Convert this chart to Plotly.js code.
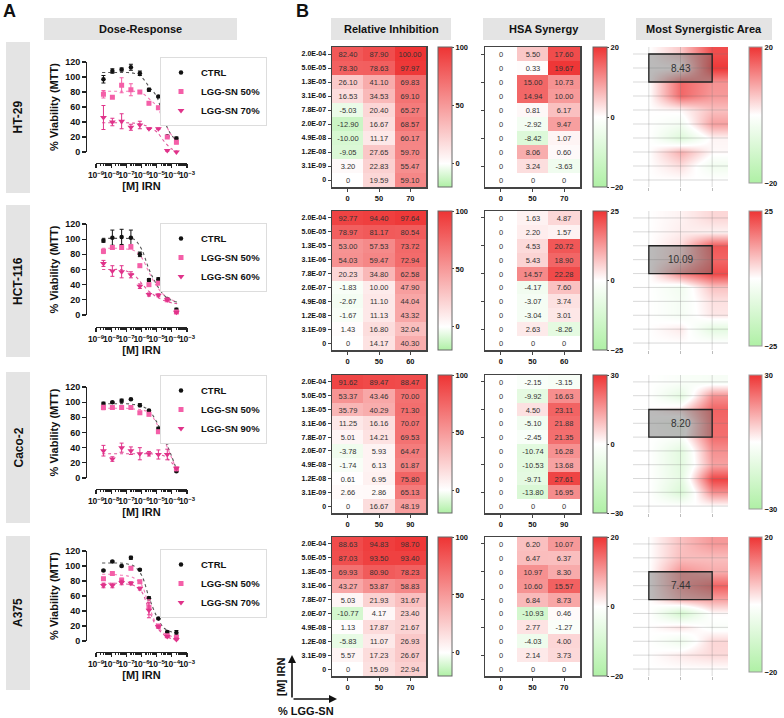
<!DOCTYPE html>
<html><head><meta charset="utf-8">
<script src="https://cdn.plot.ly/plotly-3.0.1.min.js"></script>
<style>html,body{margin:0;padding:0;background:#fff}#chart{width:784px;height:718px}</style>
</head><body><div id="chart"></div>
<script>
// ---------------- DATA ----------------
const concLabels = ["2.0E-04","5.0E-05","1.3E-05","3.1E-06","7.8E-07","2.0E-07","4.9E-08","1.2E-08","3.1E-09","0"];
const irnMolar = [3.1e-9,1.2e-8,4.9e-8,2.0e-7,7.8e-7,3.1e-6,1.3e-5,5.0e-5,2.0e-4];
const fitLog10M = [-8.6,-8,-7.5,-7,-6.5,-6,-5.5,-5,-4.5,-4,-3.65];
const cellLines = ["HT-29","HCT-116","Caco-2","A375"];
const lggLevels = [["0","50","70"],["0","50","60"],["0","50","90"],["0","50","70"]];

const ht29Names = ["CTRL","LGG-SN 50%","LGG-SN 70%"];
const ht29Viab = [[97,108,110,113,105,83,74,21,18],[77,73,89,83,80,65,59,20,13],[46,40,41,33,36,31,31,2,0]];
const ht29Err  = [[5,3,2,4,3,2,1,1,2],[5,1,10,8,2,2,2,1,2],[16,5,10,4,5,1,1,1,1]];
const ht29Fit  = [[106,106,106,106,105,100,87,74,42,22,16],[81,81,81,81,81,79,71,61,40,22,14],[39,39,39,39,38.5,37,33,27,14,4,1]];

const hct116Names = ["CTRL","LGG-SN 50%","LGG-SN 60%"];
const hct116Viab = [[98,102,103,102,80,46,47,21,7],[84,89,89,90,65,40,42,20,4],[68,58,57,53,38,27,26,20,3.5]];
const hct116Err  = [[2,10,10,10,3,2,2,1,2],[3,2,2,3,2,2,2,1,1],[4,7,8,4,3,2,2,1,1]];
const hct116Fit  = [[101,101,101,101,100,87,60,40,26,19,17],[88,88,88,87,85,76,56,38,26,20,17],[60,60,60,58,53,42,31,24,19,16,15]];

const caco2Names = ["CTRL","LGG-SN 50%","LGG-SN 90%"];
const caco2Viab = [[98,100,102,104,96,89,65,47,9],[93,93,93,93,86,84,61,57,12],[36,25,40,36,32,32,31,31,13]];
const caco2Err  = [[2,1,2,1,2,1,2,1,1],[3,1,2,2,2,2,2,3,1],[7,3,6,5,8,3,6,7,1]];
const caco2Fit  = [[98,98,98,98,97,95,89,74,52,28,9],[92,92,92,92,91,90,86,72,50,26,10],[32,32,32,32,32,32,32,31,29,20,12]];

const a375Names = ["CTRL","LGG-SN 50%","LGG-SN 70%"];
const a375Viab = [[94,106,100,111,95,57,30,12,11],[83,90,81,97,79,45,20,7,5],[74,74,78,77,70,41,19,6,2]];
const a375Err  = [[1,1,1,2,1,2,1,1,3],[2,1,3,2,2,10,2,1,2],[3,3,3,2,2,10,2,1,2]];
const a375Fit  = [[104,104,104,103,100,88,58,33,17,12,11],[89,89,88,87,84,75,46,22,10,6,5],[77,77,77,76,74,66,41,19,8,3,2]];

// Relative inhibition (rows top->bottom as concLabels, cols = lggLevels)
const ht29RI = [[82.40,87.90,100.00],[78.30,78.63,97.97],[26.10,41.10,69.83],[16.53,34.53,69.10],[-5.03,20.40,65.27],[-12.90,16.67,68.57],[-10.00,11.17,60.17],[-9.05,27.65,59.70],[3.20,22.83,55.47],[0,19.59,59.10]];
const hct116RI = [[92.77,94.40,97.64],[78.97,81.17,80.54],[53.00,57.53,73.72],[54.03,59.47,72.94],[20.23,34.80,62.58],[-1.83,10.00,47.90],[-2.67,11.10,44.04],[-1.67,11.13,43.32],[1.43,16.80,32.04],[0,14.17,40.30]];
const caco2RI = [[91.62,89.47,88.47],[53.37,43.46,70.00],[35.79,40.29,71.30],[11.25,16.16,70.07],[5.01,14.21,69.53],[-3.78,5.93,64.47],[-1.74,6.13,61.87],[0.61,6.95,75.80],[2.66,2.86,65.13],[0,16.67,48.19]];
const a375RI = [[88.63,94.83,98.70],[87.03,93.50,93.40],[69.93,80.90,78.23],[43.27,53.87,58.83],[5.03,21.93,31.67],[-10.77,4.17,23.40],[1.13,17.87,21.67],[-5.83,11.07,26.93],[5.57,17.23,26.67],[0,15.09,22.94]];

// HSA synergy
const ht29HSA = [[0,5.50,17.60],[0,0.33,19.67],[0,15.00,10.73],[0,14.94,10.00],[0,0.81,6.17],[0,-2.92,9.47],[0,-8.42,1.07],[0,8.06,0.60],[0,3.24,-3.63],[0,0,0]];
const hct116HSA = [[0,1.63,4.87],[0,2.20,1.57],[0,4.53,20.72],[0,5.43,18.90],[0,14.57,22.28],[0,-4.17,7.60],[0,-3.07,3.74],[0,-3.04,3.01],[0,2.63,-8.26],[0,0,0]];
const caco2HSA = [[0,-2.15,-3.15],[0,-9.92,16.63],[0,4.50,23.11],[0,-5.10,21.88],[0,-2.45,21.35],[0,-10.74,16.28],[0,-10.53,13.68],[0,-9.71,27.61],[0,-13.80,16.95],[0,0,0]];
const a375HSA = [[0,6.20,10.07],[0,6.47,6.37],[0,10.97,8.30],[0,10.60,15.57],[0,6.84,8.73],[0,-10.93,0.46],[0,2.77,-1.27],[0,-4.03,4.00],[0,2.14,3.73],[0,0,0]];

const hsaLimits = [20,25,30,20];
const msaScores = [8.43,10.09,8.20,7.44];
const msaTopRow = [0,2,2,2];
const riTicks = [0,50,100];

// ---------------- LAYOUT HELPERS ----------------
const W=784,H=718;
const fx=p=>p/W, fy=p=>1-p/H;
const FONT='Liberation Sans, Arial, Helvetica, sans-serif';
const B=(size,color)=>({family:FONT,size:size,color:color||'#111',weight:'bold'});
const N=(size,color)=>({family:FONT,size:size,color:color||'#333'});
const fmt=v=>v===0?'0':v.toFixed(2);

const panels=[
  {names:ht29Names,viab:ht29Viab,err:ht29Err,fit:ht29Fit,ri:ht29RI,hsa:ht29HSA},
  {names:hct116Names,viab:hct116Viab,err:hct116Err,fit:hct116Fit,ri:hct116RI,hsa:hct116HSA},
  {names:caco2Names,viab:caco2Viab,err:caco2Err,fit:caco2Fit,ri:caco2RI,hsa:caco2HSA},
  {names:a375Names,viab:a375Viab,err:a375Err,fit:a375Fit,ri:a375RI,hsa:a375HSA}
];
const rowPx=[
  {dr:[62,152,163],hm:[47,187],leg:57,box:[42,193]},
  {dr:[224,315,327],hm:[211,350],leg:223,box:[205,357]},
  {dr:[387,478,489],hm:[375,513],leg:375,box:[372,523]},
  {dr:[551,641,652],hm:[537,676],leg:549,box:[536,690]}
];
const colors=['#111111','#f45fa8','#e0338a'];
const fitColors=['#555555','#f47cb8','#e0559c'];
const symbols=['circle','square','triangle-down'];
const msize=[4.5,5,6];
const GREEN='rgb(175,240,165)', RED='rgb(238,52,52)';
const riScale=[[0,GREEN],[20/120,'#ffffff'],[1,RED]];
const hsaScale=[[0,GREEN],[0.5,'#ffffff'],[1,RED]];

const traces=[], shapes=[], annotations=[];
const layout={width:W,height:H,margin:{l:0,r:0,t:0,b:0},paper_bgcolor:'#fff',plot_bgcolor:'rgba(0,0,0,0)',
  font:{family:FONT,color:'#111'},hovermode:false,shapes:shapes,annotations:annotations};
const xk=n=>n===1?'xaxis':'xaxis'+n, yk=n=>n===1?'yaxis':'yaxis'+n;
const xr=n=>n===1?'x':'x'+n, yr=n=>n===1?'y':'y'+n;
const ann=(o)=>annotations.push(Object.assign({xref:'paper',yref:'paper',showarrow:false,xanchor:'center',yanchor:'middle'},o));

panels.forEach((p,i)=>{
  const r=rowPx[i];
  // ---- dose response ----
  const n=1+i, legId=i===0?'legend':'legend'+(i+1);
  p.fit.forEach((fy_,s)=>{
    traces.push({type:'scatter',mode:'lines',x:fitLog10M.map(v=>Math.pow(10,v)),y:fy_,
      xaxis:xr(n),yaxis:yr(n),showlegend:false,line:{color:fitColors[s],width:1.1,dash:'dot',shape:'spline'},cliponaxis:false});
  });
  p.viab.forEach((v,s)=>{
    traces.push({type:'scatter',mode:'markers',name:p.names[s],x:irnMolar,y:v,xaxis:xr(n),yaxis:yr(n),legend:legId,
      marker:{color:colors[s],symbol:symbols[s],size:msize[s]},cliponaxis:false,
      error_y:{type:'data',array:p.err[s],color:colors[s],thickness:1,width:2}});
  });
  layout[xk(n)]={type:'log',domain:[fx(96),fx(187)],range:[-9,-3],anchor:'free',position:fy(r.dr[2]),
    showline:true,linecolor:'#222',linewidth:1.3,ticks:'outside',ticklen:4,tickwidth:1.2,tickcolor:'#222',dtick:1,
    tickangle:0,exponentformat:'power',tickfont:B(6.8),minor:{ticks:'outside',ticklen:2,dtick:'D1',tickcolor:'#222',showgrid:false},
    showgrid:false,zeroline:false,title:{text:'[M] IRN',font:B(11),standoff:3}};
  layout[yk(n)]={domain:[fy(r.dr[1]),fy(r.dr[0])],range:[0,120],anchor:'free',position:fx(86),dtick:20,
    ticks:'outside',ticklen:4,tickwidth:1.2,tickcolor:'#222',showline:true,linecolor:'#222',linewidth:1.3,
    showgrid:false,zeroline:false,tickfont:B(9),title:{text:'% Viability (MTT)',font:B(11),standoff:3}};
  layout[legId]={x:fx(160),y:fy(r.leg),xanchor:'left',yanchor:'top',bgcolor:'#fff',bordercolor:'#dddddd',borderwidth:1,
    font:B(9.5),itemwidth:30,tracegroupgap:0};

  // ---- relative inhibition ----
  const m=5+i;
  traces.push({type:'heatmap',x:lggLevels[i],y:concLabels,z:p.ri,xaxis:xr(m),yaxis:yr(m),
    colorscale:riScale,zmin:-20,zmax:100,text:p.ri.map(row=>row.map(fmt)),texttemplate:'%{text}',textfont:N(7.5),
    colorbar:{x:fx(438),xanchor:'left',y:fy(r.hm[0]),yanchor:'top',len:r.hm[1]-r.hm[0],lenmode:'pixels',
      thickness:14,outlinewidth:1,outlinecolor:'#666',tickvals:riTicks,ticks:'outside',ticklen:2,tickfont:B(7.5),xpad:0,ypad:0}});
  const hmAxX={type:'category',showline:true,mirror:true,linecolor:'#444',linewidth:1.5,ticks:'outside',ticklen:3,
    tickcolor:'#444',tickfont:B(7.5),showgrid:false,zeroline:false};
  const hmAxY={type:'category',autorange:'reversed',showline:true,mirror:true,linecolor:'#444',linewidth:1.5,
    ticks:'outside',ticklen:3,tickcolor:'#444',tickfont:B(7),showgrid:false,zeroline:false,domain:[fy(r.hm[1]),fy(r.hm[0])]};
  layout[xk(m)]=Object.assign({},hmAxX,{domain:[fx(332),fx(426)],anchor:yr(m)});
  layout[yk(m)]=Object.assign({},hmAxY,{anchor:xr(m)});

  // ---- HSA synergy ----
  const h=9+i, L=hsaLimits[i];
  traces.push({type:'heatmap',x:lggLevels[i],y:concLabels,z:p.hsa,xaxis:xr(h),yaxis:yr(h),
    colorscale:hsaScale,zmin:-L,zmax:L,text:p.hsa.map(row=>row.map(fmt)),texttemplate:'%{text}',textfont:N(7.5),
    colorbar:{x:fx(593),xanchor:'left',y:fy(r.hm[0]),yanchor:'top',len:r.hm[1]-r.hm[0],lenmode:'pixels',
      thickness:14,outlinewidth:1,outlinecolor:'#666',tickvals:[-L,0,L],ticks:'outside',ticklen:2,tickfont:B(7.5),xpad:0,ypad:0}});
  layout[xk(h)]=Object.assign({},hmAxX,{domain:[fx(485),fx(580)],anchor:yr(h)});
  layout[yk(h)]=Object.assign({},hmAxY,{anchor:xr(h),showticklabels:false});

  // ---- most synergistic area ----
  const a=13+i;
  const idxX=lggLevels[i].map((_,k)=>k), idxY=concLabels.map((_,k)=>k);
  traces.push({type:'heatmap',x:idxX,y:idxY,z:p.hsa,xaxis:xr(a),yaxis:yr(a),zsmooth:'best',
    colorscale:hsaScale,zmin:-L,zmax:L,
    colorbar:{x:fx(749),xanchor:'left',y:fy(r.hm[0]),yanchor:'top',len:r.hm[1]-r.hm[0]-4,lenmode:'pixels',
      thickness:13,outlinewidth:1,outlinecolor:'#999',tickvals:[-L,L],ticks:'',tickfont:B(7.5),xpad:0,ypad:0}});
  layout[xk(a)]={domain:[fx(633),fx(728)],anchor:yr(a),range:[-0.5,2.5],showgrid:false,zeroline:false,showline:false,
    tickvals:idxX,showticklabels:false,ticks:'outside',ticklen:3,tickcolor:'#bbb'};
  layout[yk(a)]={domain:[fy(r.hm[1]),fy(r.hm[0])],anchor:xr(a),range:[9.5,-0.5],showgrid:false,zeroline:false,
    showline:false,showticklabels:false,ticks:''};
  idxY.forEach(k=>shapes.push({type:'line',xref:xr(a),yref:yr(a),x0:-0.5,x1:2.5,y0:k,y1:k,layer:'above',
    line:{color:'rgba(120,120,120,0.28)',width:1}}));
  idxX.forEach(k=>shapes.push({type:'line',xref:xr(a),yref:yr(a),x0:k,x1:k,y0:-0.5,y1:9.5,layer:'above',
    line:{color:'rgba(120,120,120,0.28)',width:1}}));
  shapes.push({type:'rect',xref:xr(a),yref:yr(a),x0:0,x1:idxX.length-1,y0:msaTopRow[i],y1:msaTopRow[i]+2,layer:'above',
    fillcolor:'rgba(105,105,105,0.45)',line:{color:'#222',width:1.3}});
  annotations.push({xref:xr(a),yref:yr(a),x:1,y:msaTopRow[i]+1,text:msaScores[i].toFixed(2),showarrow:false,
    xanchor:'center',yanchor:'middle',font:N(10,'#333')});

  // ---- row label box ----
  shapes.push({type:'rect',xref:'paper',yref:'paper',x0:fx(6),x1:fx(30),y0:fy(r.box[1]),y1:fy(r.box[0]),
    fillcolor:'#e4e4e4',line:{width:0},layer:'below'});
  ann({x:fx(18),y:fy((r.box[0]+r.box[1])/2),text:cellLines[i],textangle:-90,font:B(12)});
});

// headers
[[44,237,'Dose-Response'],[331,451,'Relative Inhibition'],[483,605,'HSA Synergy'],[636,772,'Most Synergistic Area']].forEach(hd=>{
  shapes.push({type:'rect',xref:'paper',yref:'paper',x0:fx(hd[0]),x1:fx(hd[1]),y0:fy(40),y1:fy(18),fillcolor:'#e4e4e4',line:{width:0},layer:'below'});
  ann({x:fx((hd[0]+hd[1])/2),y:fy(29),text:hd[2],font:B(11)});
});
ann({x:fx(9),y:fy(11),text:'A',font:B(18)});
ann({x:fx(302),y:fy(11),text:'B',font:B(18)});
// axis-direction arrows
annotations.push({xref:'paper',yref:'paper',x:fx(292),y:fy(655),ax:0,ay:44,axref:'pixel',ayref:'pixel',text:'',showarrow:true,
  arrowhead:2,arrowsize:1,arrowwidth:1.6,arrowcolor:'#111'});
annotations.push({xref:'paper',yref:'paper',x:fx(337),y:fy(699),ax:-45,ay:0,axref:'pixel',ayref:'pixel',text:'',showarrow:true,
  arrowhead:2,arrowsize:1,arrowwidth:1.6,arrowcolor:'#111'});
ann({x:fx(281),y:fy(677),text:'[M] IRN',textangle:-90,font:B(11)});
ann({x:fx(306),y:fy(711),text:'% LGG-SN',font:B(11)});

Plotly.newPlot('chart',traces,layout,{staticPlot:true,displayModeBar:false});
</script></body></html>
